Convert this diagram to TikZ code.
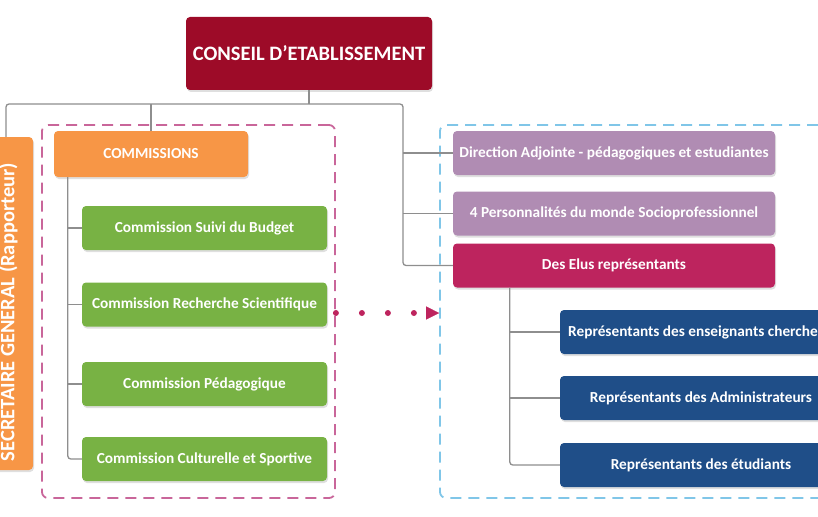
\documentclass[tikz,border=0pt]{standalone}
\usepackage{fontspec}
\setmainfont{Carlito}
\usetikzlibrary{arrows.meta,shadows}
\definecolor{conseilc}{HTML}{9D0B28}
\definecolor{orangec}{HTML}{F79646}
\definecolor{greenc}{HTML}{78B244}
\definecolor{purplec}{HTML}{B08CB3}
\definecolor{elusc}{HTML}{BD245E}
\definecolor{bluec}{HTML}{1F4E88}
\definecolor{pinkdash}{HTML}{C9669A}
\definecolor{bluedash}{HTML}{80C6E8}
\definecolor{linec}{HTML}{8E8E8E}
\definecolor{dotc}{HTML}{BE245E}
\begin{document}
\begin{tikzpicture}[x=1pt,y=-1pt,
  box/.style={rounded corners=4pt, text=white, font=\bfseries, inner sep=0pt,
    drop shadow={opacity=0.25, shadow xshift=1pt, shadow yshift=-2pt}},
  conn/.style={draw=linec, line width=1.3pt, rounded corners=3pt},
  frame/.style={rounded corners=6pt, line width=1.8pt, dash pattern=on 11pt off 7pt, inner sep=0pt},
  mid/.style={font=\bfseries\fontsize{15.3}{17}\selectfont}]
\useasboundingbox (0,0) rectangle (818,516);
\clip (0,0) rectangle (818,516);
% frames
\node[frame, draw=pinkdash, minimum width=293pt, minimum height=373pt] (pinkframe) at (188.5,311.5) {};
\node[frame, draw=bluedash, minimum width=420pt, minimum height=373pt] (blueframe) at (650,311.5) {};
% boxes
\node[box, fill=conseilc, minimum width=246pt, minimum height=73pt, font=\bfseries\fontsize{20.5}{23}\selectfont] (conseil) at (309,53.5) {CONSEIL D’ETABLISSEMENT};
\node[box, fill=orangec, minimum width=54pt, minimum height=333pt] (sec) at (6,303.5) {};
\node[rotate=90, text=white, inner sep=0pt, font=\bfseries\fontsize{20.5}{23}\selectfont] (sectext) at (8.5,312) {SECRETAIRE GENERAL (Rapporteur)};
\node[box, fill=orangec, minimum width=194pt, minimum height=46pt, mid] (com) at (151,154) {COMMISSIONS};
\tikzset{gbox/.style={box, fill=greenc, minimum width=245pt, minimum height=44pt, mid}}
\node[gbox] (g1) at (204.5,228) {Commission Suivi du Budget};
\node[gbox] (g2) at (204.5,304.5) {Commission Recherche Scientifique};
\node[gbox] (g3) at (204.5,384) {Commission Pédagogique};
\node[gbox] (g4) at (204.5,459) {Commission Culturelle et Sportive};
\tikzset{rbox/.style={box, minimum width=322pt, minimum height=44pt, mid}}
\node[rbox, fill=purplec] (dir) at (614,153) {Direction Adjointe - pédagogiques et estudiantes};
\node[rbox, fill=purplec] (pers) at (614,213.5) {4 Personnalités du monde Socioprofessionnel};
\node[rbox, fill=elusc] (elus) at (614,265.5) {Des Elus représentants};
\tikzset{bbox/.style={box, fill=bluec, minimum width=282pt, minimum height=44pt, mid}}
\node[bbox, minimum width=316pt] (b1) at (718,332) {};
\node[anchor=west, inner sep=0pt, text=white, mid] (b1text) at (568,332) {Représentants des enseignants chercheurs};
\node[bbox] (b2) at (701,398) {Représentants des Administrateurs};
\node[bbox] (b3) at (701,465) {Représentants des étudiants};
% connectors
\coordinate (jt) at (309,104);
\coordinate (jr) at (403,104);
\draw[conn] (conseil.south) -- (jt);
\draw[conn] (jt) -| (sec.north);
\draw[conn] (jt) -- (jr) |- (elus.west);
\draw[conn] (com.north) -- (com.north |- jt);
\draw[conn] (dir.west) -- (dir.west -| jr);
\draw[conn] (pers.west) -- (pers.west -| jr);
\draw[conn] ([xshift=14pt]com.south west) |- (g4.west);
\draw[conn] (g1.west) -- ++(-14,0);
\draw[conn] (g2.west) -- ++(-14,0);
\draw[conn] (g3.west) -- ++(-14,0);
\draw[conn] ([xshift=57pt]elus.south west) |- (b3.west);
\draw[conn] (b1.west) -- ++(-50,0);
\draw[conn] (b2.west) -- ++(-50,0);
% dotted arrow
\coordinate (arr) at (0,313);
\draw[dotc, line width=6pt, line cap=round, dash pattern=on 0pt off 26pt,
  -{Triangle[length=13pt,width=13pt,line width=0.1pt]}] (pinkframe.east |- arr) -- (blueframe.west |- arr);
\end{tikzpicture}
\end{document}
